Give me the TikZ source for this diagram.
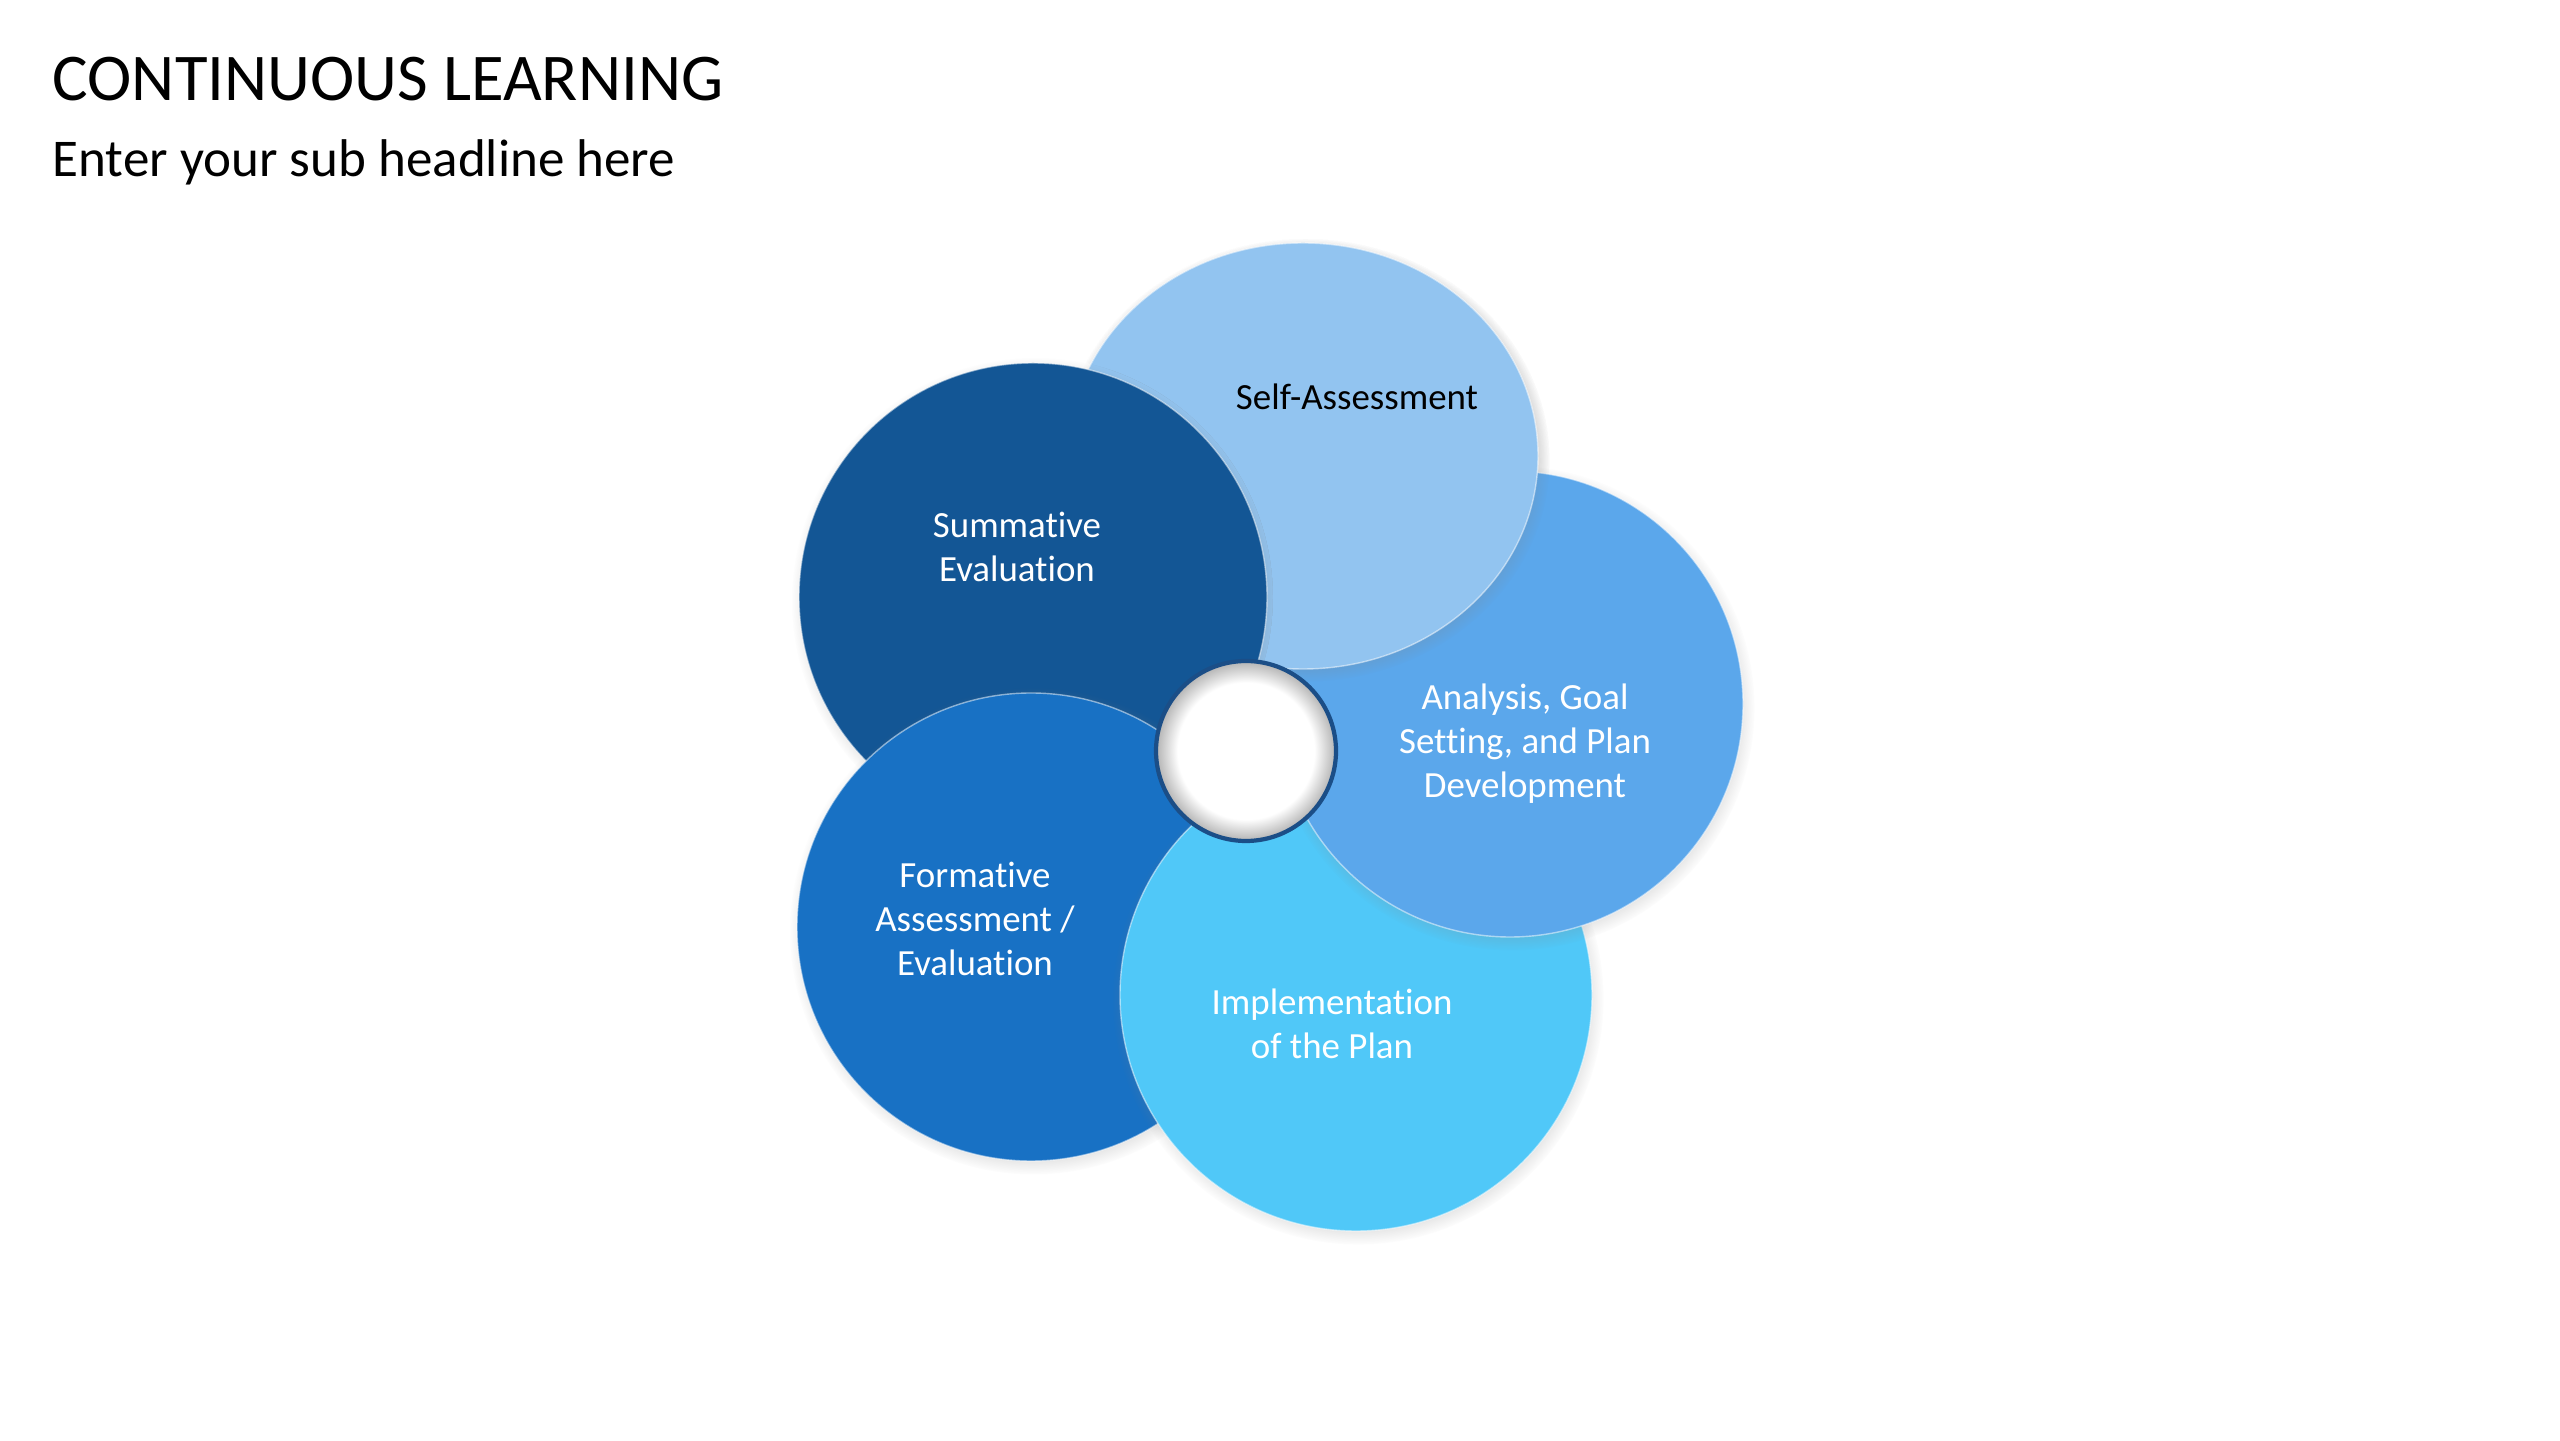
\documentclass[tikz,border=0pt]{standalone}
\usepackage{fontspec}
\setmainfont{Carlito}[Ligatures=CommonOff]
\usepackage{xcolor}
\usepackage{tikz}
\usetikzlibrary{shadows, shapes.geometric}
\definecolor{selfblue}{HTML}{92C4F0}
\definecolor{sumblue}{HTML}{135695}
\definecolor{anablue}{HTML}{5BA7EB}
\definecolor{impblue}{HTML}{50C8F8}
\definecolor{formblue}{HTML}{1871C4}
\definecolor{ringblue}{HTML}{1B4E87}
\pgfdeclareradialshading{hole}{\pgfpoint{0bp}{0bp}}{color(0bp)=(white); color(19bp)=(white); color(25bp)=(black!30); color(50bp)=(black!30)}
\tikzset{
  petal/.style={circle, inner sep=0pt, outer sep=0pt, draw=white, draw opacity=0.5, line width=0.4pt,
    circular drop shadow={shadow xshift=0.02cm, shadow yshift=-0.04cm, shadow scale=1.04, opacity=0.45}},
  oval/.style={petal, ellipse, minimum width=4.70cm, minimum height=4.26cm},
  lbl/.style={align=center, text=white, font=\fontsize{10.5}{12.5}\selectfont}
}

\begin{document}
\begin{tikzpicture}
\fill[white] (0,0) rectangle (25.6,14.4);
\useasboundingbox (0,0) rectangle (25.6,14.4);
\node[anchor=base west, inner sep=0pt, font=\fontsize{19}{23}\selectfont] (title) at (0.52,13.39) {CONTINUOUS LEARNING};
\node[anchor=base west, inner sep=0pt, font=\fontsize{15.1}{18}\selectfont] (subtitle) at (0.52,12.63) {Enter your sub headline here};
\node[oval, fill=selfblue] (self) at (13.03,9.84) {};
\node[petal, fill=sumblue, minimum size=4.68cm] (summ) at (10.33,8.43) {};
\node[petal, fill=formblue, minimum size=4.68cm] (form) at (10.31,5.13) {};
\node[petal, fill=impblue, minimum size=4.72cm] (impl) at (13.56,4.45) {};
\node[petal, fill=anablue, minimum size=4.66cm] (ana) at (15.10,7.36) {};
\begin{scope}[even odd rule]
\clip (0,0) -- (0,14.4) -- (25.6,14.4) -- (25.6,0) -- cycle (summ.center) circle (2.40);
\node[oval, fill=selfblue] (selftop) at (self.center) {};
\end{scope}
\node[circle, inner sep=0pt, minimum size=1.80cm, shading=hole, draw=ringblue, line width=1.2pt] (hub) at (12.46,6.89) {};
\node[lbl, text=black] (t-self) at (13.57,10.43) {Self-Assessment};
\node[lbl] (t-summ) at (10.17,8.93) {Summative\\Evaluation};
\node[lbl] (t-ana) at (15.25,6.96) {Analysis, Goal\\Setting, and Plan\\Development};
\node[lbl] (t-impl) at (13.32,4.16) {Implementation\\of the Plan};
\node[lbl] (t-form) at (9.75,5.21) {Formative\\Assessment /\\Evaluation};
\end{tikzpicture}
\end{document}
